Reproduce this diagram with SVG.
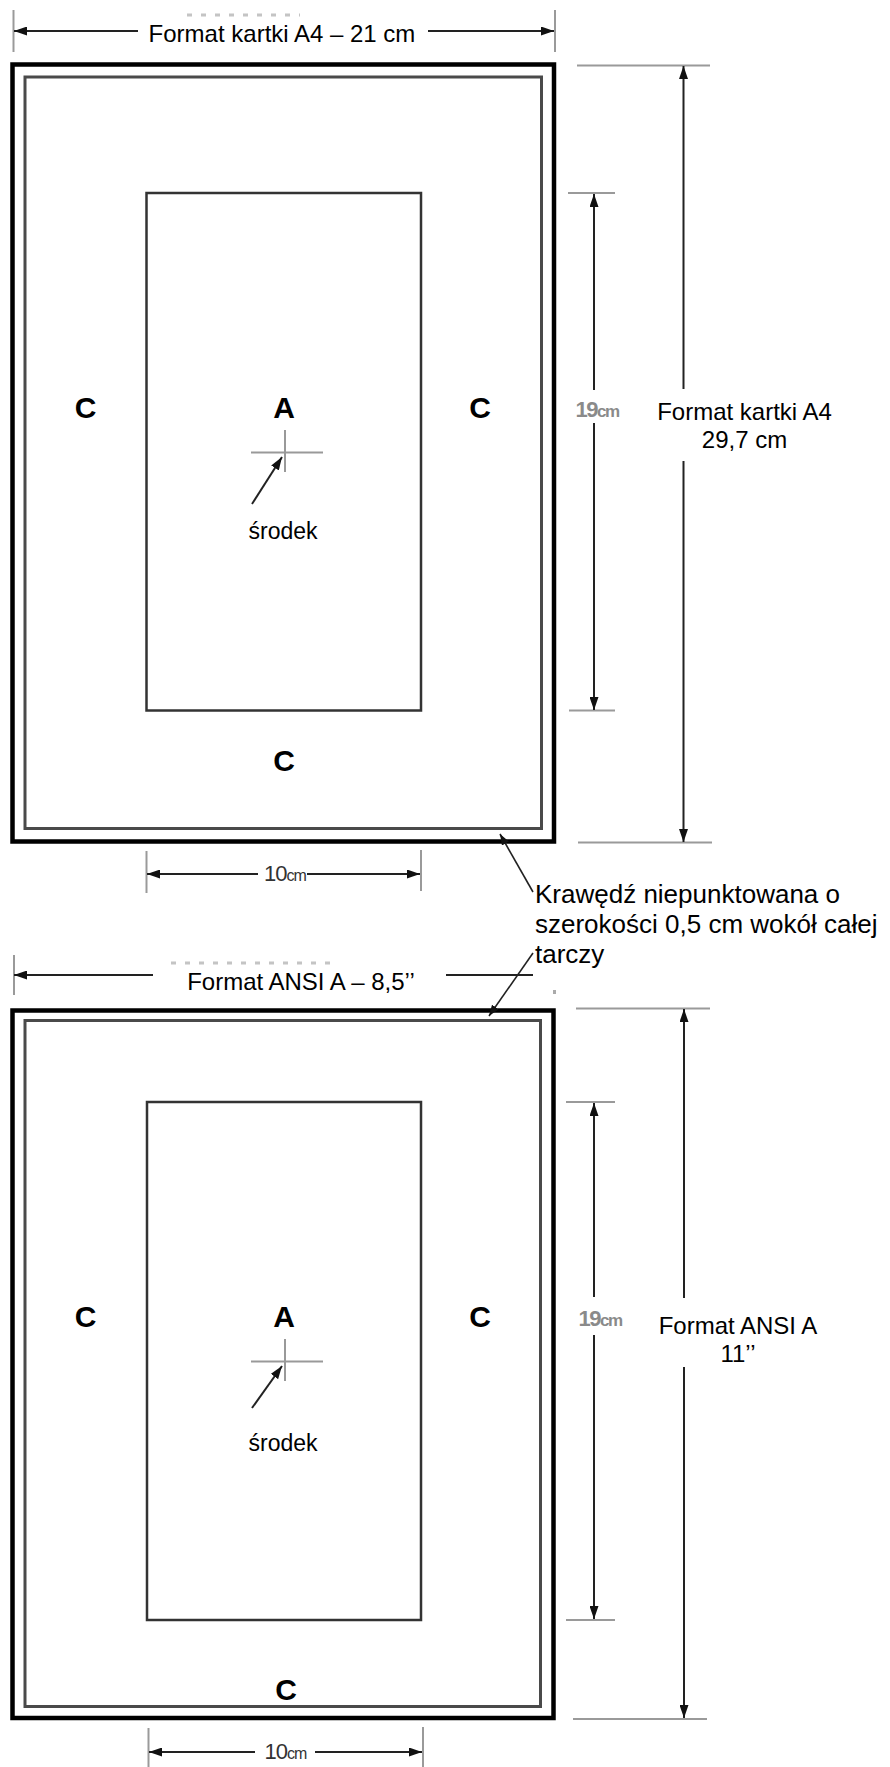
<svg xmlns="http://www.w3.org/2000/svg" width="890" height="1767" viewBox="0 0 890 1767">
<style>
.outer{fill:none;stroke:#000;stroke-width:4.5}
.inner{fill:none;stroke:#4a4a4a;stroke-width:3}
.target{fill:none;stroke:#333;stroke-width:2.5}
.ext{stroke:#9a9a9a;stroke-width:2;fill:none}
.dim{stroke:#222;stroke-width:2;fill:none}
.cross{stroke:#999;stroke-width:2;fill:none}
.lead{stroke:#222;stroke-width:1.6;fill:none}
.t{font-family:"Liberation Sans",Arial,sans-serif;fill:#000}
.big{font-family:"Liberation Sans",Arial,sans-serif;font-weight:bold;font-size:30px;fill:#000;text-anchor:middle}
.small{font-family:"Liberation Sans",Arial,sans-serif;font-weight:bold;fill:#8a8a8a;letter-spacing:-1.5px}
.ten{font-family:"Liberation Sans",Arial,sans-serif;fill:#333;letter-spacing:-1px}
.ghost{stroke:#c4c4c4;stroke-width:3;stroke-dasharray:5 9;fill:none}
</style>
<defs>
<marker id="ah" markerUnits="userSpaceOnUse" markerWidth="13" markerHeight="9" refX="13" refY="4.5" orient="auto">
<path d="M0,0 L13,4.5 L0,9 z" fill="#111"/>
</marker>
<marker id="ahs" markerUnits="userSpaceOnUse" markerWidth="11" markerHeight="8" refX="11" refY="4" orient="auto">
<path d="M0,0 L11,4 L0,8 z" fill="#111"/>
</marker>
</defs>

<g id="a4-sheet">
<rect class="outer" x="12.5" y="64.5" width="541.5" height="777"/>
<rect class="inner" x="25" y="77" width="516.5" height="751.5"/>
</g>
<g id="a4-target">
<rect class="target" x="146.5" y="193" width="274.5" height="517.5"/>
<line class="cross" x1="251" y1="452.5" x2="323" y2="452.5"/>
<line class="cross" x1="285" y1="430" x2="285" y2="472"/>
</g>
<g id="a4-labels">
<text class="big" x="85.5" y="418">C</text>
<text class="big" x="284" y="418">A</text>
<text class="big" x="480" y="418">C</text>
<text class="big" x="284" y="771">C</text>
<text class="t" x="283" y="539" font-size="23" text-anchor="middle">środek</text>
</g>
<g id="a4-width-label">
<line class="ext" x1="13.5" y1="10" x2="13.5" y2="52"/>
<line class="ext" x1="555" y1="10" x2="555" y2="52"/>
<line class="ghost" x1="187" y1="15" x2="300" y2="15"/>
<text class="t" x="282" y="42" font-size="24" text-anchor="middle">Format kartki A4 – 21 cm</text>
</g>
<g id="a4-height-label">
<line class="ext" x1="577" y1="65.5" x2="710" y2="65.5"/>
<line class="ext" x1="578" y1="842.5" x2="712" y2="842.5"/>
<text class="t" x="744.5" y="420" font-size="24" text-anchor="middle">Format kartki A4</text>
<text class="t" x="744.5" y="448" font-size="24" text-anchor="middle">29,7 cm</text>
</g>
<g id="a4-19cm">
<line class="ext" x1="568" y1="193" x2="615" y2="193"/>
<line class="ext" x1="569" y1="710.5" x2="615" y2="710.5"/>
<text class="small" x="597" y="417" text-anchor="middle"><tspan font-size="22">19</tspan><tspan font-size="17">cm</tspan></text>
</g>
<g id="a4-10cm">
<line class="ext" x1="146.5" y1="851" x2="146.5" y2="893"/>
<line class="ext" x1="421" y1="850" x2="421" y2="891"/>
<text class="ten" x="285" y="881" text-anchor="middle"><tspan font-size="22">10</tspan><tspan font-size="16">cm</tspan></text>
</g>

<g id="border-note">
<text class="t" x="535" y="903" font-size="26">Krawędź niepunktowana o</text>
<text class="t" x="535" y="933" font-size="26">szerokości 0,5 cm wokół całej</text>
<text class="t" x="535" y="963" font-size="26">tarczy</text>
</g>

<g id="ansi-sheet">
<rect class="outer" x="12.5" y="1010.5" width="541" height="707.5"/>
<rect class="inner" x="25" y="1020.5" width="515.5" height="686"/>
</g>
<g id="ansi-target">
<rect class="target" x="147" y="1102" width="274" height="518"/>
<line class="cross" x1="251" y1="1361.5" x2="323" y2="1361.5"/>
<line class="cross" x1="285" y1="1339" x2="285" y2="1381"/>
</g>
<g id="ansi-labels">
<text class="big" x="85.5" y="1327">C</text>
<text class="big" x="284" y="1327">A</text>
<text class="big" x="480" y="1327">C</text>
<text class="big" x="286" y="1700">C</text>
<text class="t" x="283" y="1451" font-size="23" text-anchor="middle">środek</text>
</g>
<g id="ansi-width-label">
<line class="ext" x1="14" y1="955" x2="14" y2="995"/>
<rect x="553" y="990" width="3" height="4" fill="#aaa"/>
<line class="ghost" x1="171" y1="963" x2="336" y2="963"/>
<text class="t" x="301" y="990" font-size="24" text-anchor="middle">Format ANSI A – 8,5’’</text>
</g>
<g id="ansi-height-label">
<line class="ext" x1="576" y1="1008.5" x2="710" y2="1008.5"/>
<line class="ext" x1="573" y1="1719" x2="707" y2="1719"/>
<text class="t" x="738" y="1334" font-size="24" text-anchor="middle">Format ANSI A</text>
<text class="t" x="738" y="1362" font-size="24" text-anchor="middle">11’’</text>
</g>
<g id="ansi-19cm">
<line class="ext" x1="566" y1="1102" x2="615" y2="1102"/>
<line class="ext" x1="566" y1="1620" x2="615" y2="1620"/>
<text class="small" x="600" y="1326" text-anchor="middle"><tspan font-size="22">19</tspan><tspan font-size="17">cm</tspan></text>
</g>
<g id="ansi-10cm">
<line class="ext" x1="148.5" y1="1728" x2="148.5" y2="1767"/>
<line class="ext" x1="423" y1="1727" x2="423" y2="1767"/>
<text class="ten" x="285.5" y="1759" text-anchor="middle"><tspan font-size="22">10</tspan><tspan font-size="16">cm</tspan></text>
</g>

<g id="connectors">
<line class="dim" x1="138" y1="31" x2="14" y2="31" marker-end="url(#ah)"/>
<line class="dim" x1="428" y1="31" x2="554" y2="31" marker-end="url(#ah)"/>
<line class="dim" x1="594" y1="390" x2="594" y2="194" marker-end="url(#ah)"/>
<line class="dim" x1="594" y1="423" x2="594" y2="710" marker-end="url(#ah)"/>
<line class="dim" x1="683.5" y1="389" x2="683.5" y2="66" marker-end="url(#ah)"/>
<line class="dim" x1="683.5" y1="461" x2="683.5" y2="842" marker-end="url(#ah)"/>
<line class="dim" x1="258" y1="874" x2="147" y2="874" marker-end="url(#ah)"/>
<line class="dim" x1="307" y1="874" x2="420" y2="874" marker-end="url(#ah)"/>
<line class="dim" x1="252" y1="504" x2="282" y2="457" marker-end="url(#ah)"/>
<line class="lead" x1="533" y1="892" x2="500" y2="834" marker-end="url(#ahs)"/>
<line class="lead" x1="533" y1="953" x2="489" y2="1016" marker-end="url(#ahs)"/>
<line class="dim" x1="153" y1="975" x2="14" y2="975" marker-end="url(#ah)"/>
<line class="dim" x1="446" y1="975" x2="533" y2="975"/>
<line class="dim" x1="594" y1="1297" x2="594" y2="1103" marker-end="url(#ah)"/>
<line class="dim" x1="594" y1="1335" x2="594" y2="1619" marker-end="url(#ah)"/>
<line class="dim" x1="684" y1="1298" x2="684" y2="1009" marker-end="url(#ah)"/>
<line class="dim" x1="684" y1="1367" x2="684" y2="1718" marker-end="url(#ah)"/>
<line class="dim" x1="255" y1="1752" x2="149" y2="1752" marker-end="url(#ah)"/>
<line class="dim" x1="315" y1="1752" x2="422" y2="1752" marker-end="url(#ah)"/>
<line class="dim" x1="252" y1="1408" x2="282" y2="1366" marker-end="url(#ah)"/>
</g>
</svg>
